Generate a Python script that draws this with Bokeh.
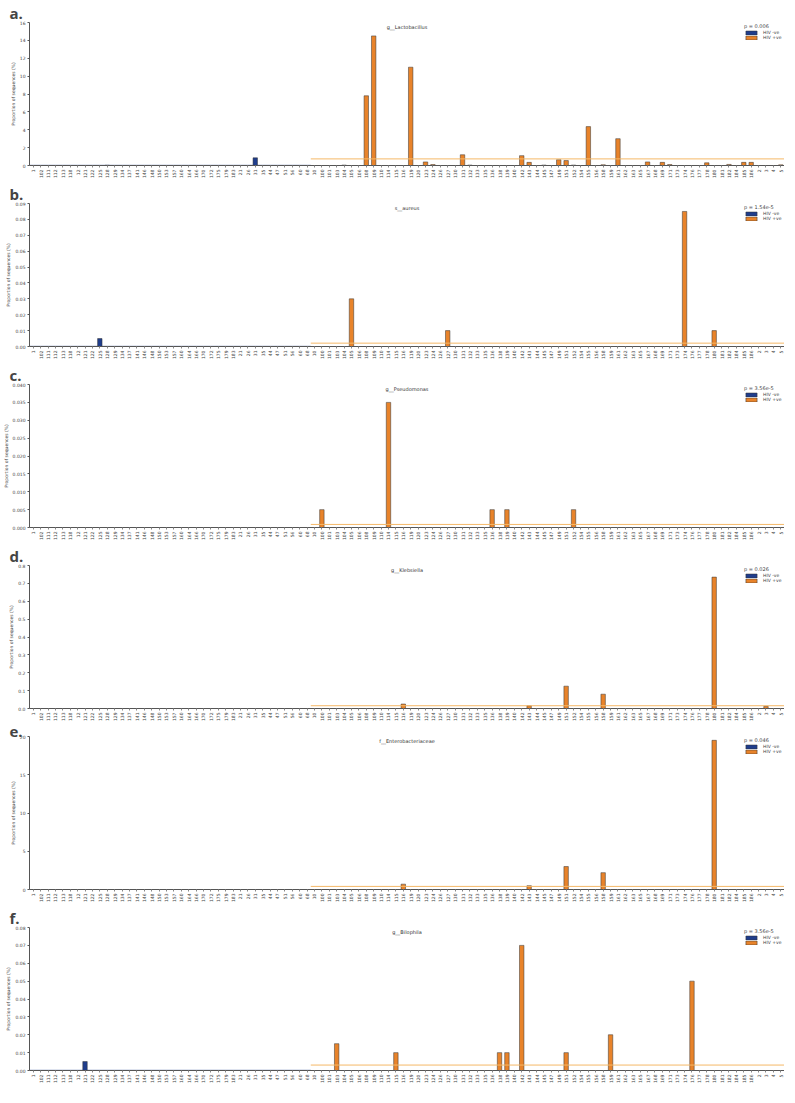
import math
from bokeh.plotting import figure
from bokeh.models import FactorRange, Range1d, FixedTicker, PrintfTickFormatter, Label
from bokeh.layouts import column
from bokeh.embed import file_html
from bokeh.resources import INLINE

# ---------------- data ----------------
neg_samples = ["1", "102", "111", "112", "113", "118", "12", "121", "122", "125",
               "128", "129", "134", "137", "141", "146", "148", "150", "153", "157",
               "160", "164", "166", "170", "172", "175", "179", "183", "21", "26",
               "31", "35", "44", "47", "51", "56", "60", "68"]
pos_samples = ["10", "100", "101", "103", "104", "105", "106", "108", "109", "110",
               "114", "115", "116", "119", "120", "123", "124", "126", "127", "130",
               "131", "132", "133", "135", "136", "138", "139", "140", "142", "143",
               "144", "145", "147", "149", "151", "152", "154", "155", "156", "158",
               "159", "161", "162", "163", "165", "167", "168", "169", "171", "173",
               "174", "176", "177", "178", "180", "181", "182", "184", "185", "186",
               "2", "3", "4", "5"]

panel_letters = ["a.", "b.", "c.", "d.", "e.", "f."]
taxa = ["g__Lactobacillus", "s__aureus", "g__Pseudomonas", "g__Klebsiella",
        "f__Enterobacteriaceae", "g__Bilophila"]
p_values = ["p = 0.006", "p = 1.54e-5", "p = 3.56e-5", "p = 0.026", "p = 0.046", "p = 3.56e-5"]
y_max = [16, 0.09, 0.04, 0.8, 20, 0.08]
y_ticks = [[0, 2, 4, 6, 8, 10, 12, 14, 16],
           [0, 0.01, 0.02, 0.03, 0.04, 0.05, 0.06, 0.07, 0.08, 0.09],
           [0, 0.005, 0.010, 0.015, 0.020, 0.025, 0.030, 0.035, 0.040],
           [0, 0.1, 0.2, 0.3, 0.4, 0.5, 0.6, 0.7, 0.8],
           [0, 5, 10, 15, 20],
           [0, 0.01, 0.02, 0.03, 0.04, 0.05, 0.06, 0.07, 0.08]]
tick_formats = ["%d", "%.2f", "%.3f", "%.1f", "%d", "%.2f"]

a_values = {"128": 0.03, "31": 0.86,
            "104": 0.05, "108": 7.8, "109": 14.5, "119": 11.0, "123": 0.4, "124": 0.1,
            "131": 1.2, "132": 0.05, "142": 1.1, "143": 0.35, "145": 0.05, "149": 0.65,
            "151": 0.55, "152": 0.05, "155": 4.35, "158": 0.08, "161": 3.0, "167": 0.4,
            "169": 0.35, "171": 0.1, "178": 0.3, "182": 0.12, "185": 0.35, "186": 0.35,
            "5": 0.07}
b_values = {"125": 0.005,
            "105": 0.03, "127": 0.01, "174": 0.085, "180": 0.01}
c_values = {"100": 0.005, "114": 0.035, "136": 0.005, "139": 0.005, "152": 0.005}
d_values = {"116": 0.025, "143": 0.015, "151": 0.125, "158": 0.08, "180": 0.735, "3": 0.012}
e_values = {"116": 0.7, "143": 0.5, "151": 3.0, "158": 2.2, "180": 19.5}
f_values = {"121": 0.005,
            "103": 0.015, "115": 0.01, "138": 0.01, "139": 0.01, "142": 0.07,
            "151": 0.01, "159": 0.02, "176": 0.05}
panel_values = [a_values, b_values, c_values, d_values, e_values, f_values]

# ---------------- style ----------------
BLUE = "#1f3d8c"
ORANGE = "#e8832a"
LINE_ORANGE = "#f5b867"
FONT = "DejaVu Sans"
W, H = 784, 181


def make_panel(letter, taxon, pval, values, ymax, ticks, fmt):
    samples = neg_samples + pos_samples
    neg_top = [values.get(s, 0.0) for s in neg_samples]
    pos_top = [values.get(s, 0.0) for s in pos_samples]

    p = figure(x_range=FactorRange(factors=samples, range_padding=0),
               y_range=Range1d(0, ymax), title=letter,
               width=W, height=H, output_backend="svg", toolbar_location=None,
               min_border_left=0, min_border_right=0, min_border_top=0, min_border_bottom=14)
    p.outline_line_color = None
    p.xgrid.grid_line_color = None
    p.ygrid.grid_line_color = None

    p.vbar(x=neg_samples, top=neg_top, width=0.6, fill_color=BLUE,
           line_color="#333333", line_width=0.5, legend_label="HIV -ve")
    p.vbar(x=pos_samples, top=pos_top, width=0.6, fill_color=ORANGE,
           line_color="#333333", line_width=0.5, legend_label="HIV +ve")

    n_neg = len(neg_samples)
    n_all = len(samples)
    mean_neg = sum(neg_top) / len(neg_top)
    mean_pos = sum(pos_top) / len(pos_top)
    p.segment(x0=[0], x1=[n_neg], y0=[mean_neg], y1=[mean_neg], line_color=BLUE,
              line_width=1, line_alpha=0.6)
    p.segment(x0=[n_neg], x1=[n_all], y0=[mean_pos], y1=[mean_pos], line_color=LINE_ORANGE,
              line_width=1)

    # panel letter as the title
    p.title.align = "left"
    p.title.offset = -20
    p.title.text_font = "Open Sans"
    p.title.text_font_size = "15px"
    p.title.text_font_style = "bold"
    p.title.standoff = 0

    # taxon name centred at the top of the frame
    p.add_layout(Label(x=n_all / 2, y=ymax, y_offset=-1, text=taxon, text_align="center",
                       text_baseline="top", text_font=FONT, text_font_size="5px",
                       text_color="#333333"))

    # axes
    yax = p.yaxis[0]
    yax.ticker = FixedTicker(ticks=ticks)
    yax.formatter = PrintfTickFormatter(format=fmt)
    yax.axis_label = "Proportion of sequences (%)"
    yax.axis_label_text_font = FONT
    yax.axis_label_text_font_size = "4.5px"
    yax.axis_label_text_font_style = "normal"
    yax.axis_label_standoff = 1
    yax.major_label_text_font = FONT
    yax.major_label_text_font_size = "4.5px"
    yax.major_label_standoff = 2
    yax.major_tick_out = 2
    yax.major_tick_in = 0
    yax.minor_tick_out = 0
    yax.minor_tick_in = 0
    yax.axis_line_color = "#555555"
    yax.major_tick_line_color = "#555555"

    xax = p.xaxis[0]
    xax.major_label_orientation = math.pi / 2
    xax.major_label_text_font = FONT
    xax.major_label_text_font_size = "4.5px"
    xax.major_label_standoff = 2
    xax.major_tick_out = 2
    xax.major_tick_in = 0
    xax.axis_line_color = "#555555"
    xax.major_tick_line_color = "#888888"

    # legend
    lg = p.legend[0]
    lg.title = pval
    lg.title_text_font = FONT
    lg.title_text_font_size = "5px"
    lg.title_text_font_style = "normal"
    lg.title_standoff = 1
    lg.location = "top_right"
    lg.label_text_font = FONT
    lg.label_text_font_size = "4.5px"
    lg.label_height = 5
    lg.glyph_height = 5
    lg.glyph_width = 14
    lg.spacing = 0
    lg.padding = 1
    lg.margin = 0
    lg.border_line_alpha = 0
    lg.background_fill_alpha = 0
    return p


panels = [make_panel(panel_letters[i], taxa[i], p_values[i], panel_values[i],
                     y_max[i], y_ticks[i], tick_formats[i]) for i in range(6)]
layout = column(*panels, spacing=0)

with open("out.html", "w") as f:
    f.write(file_html(layout, INLINE))
